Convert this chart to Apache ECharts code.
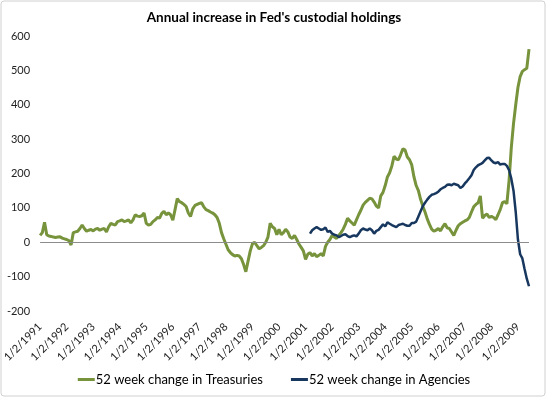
<!DOCTYPE html>
<html>
<head>
<meta charset="utf-8">
<script src="https://cdn.jsdelivr.net/npm/echarts@6/dist/echarts.min.js"></script>
<style>
html,body{margin:0;padding:0;background:#fff;}
#chart{width:548px;height:399px;}
</style>
</head>
<body>
<div id="chart"></div>
<script>
// Years shown on the axis (labels "1/2/YYYY" at each January)
var years = [1991,1992,1993,1994,1995,1996,1997,1998,1999,2000,2001,2002,2003,2004,2005,2006,2007,2008,2009];
var lastYearMonths = 6; // data runs to mid-2009

// Monthly readings, 52 week change in Treasuries (Jan 1991 .. Jun 2009)
var treasuries = [
  20, 28, 58, 22, 18, 17, 15, 14, 15, 16, 12, 10,          // 1991
  8, 5, -8, 28, 30, 32, 40, 50, 40, 32, 35, 37,            // 1992
  33, 38, 40, 35, 38, 40, 30, 45, 55, 52, 50, 60,          // 1993
  62, 65, 60, 62, 65, 56, 65, 80, 76, 75, 77, 85,          // 1994
  55, 50, 52, 60, 65, 72, 70, 84, 90, 80, 85, 80,          // 1995
  64, 95, 127, 118, 115, 110, 104, 85, 75, 97, 107, 110,   // 1996
  113, 115, 103, 95, 92, 88, 85, 80, 72, 55, 28, 10,       // 1997
  -6, -22, -30, -36, -40, -38, -40, -48, -65, -86, -55, -25, // 1998
  -4, 0, -10, -19, -15, -10, 0, 15, 55, 45, 40, 22,        // 1999
  38, 22, 28, 38, 30, 15, 11, 20, 8, -5, -15, -25,         // 2000
  -50, -35, -30, -40, -33, -42, -38, -33, -40, -12, 0, 8,  // 2001
  20, 15, 11, 20, 28, 38, 52, 70, 62, 56, 50, 65,          // 2002
  80, 93, 108, 116, 122, 128, 126, 117, 105, 100, 135, 145, // 2003
  165, 190, 202, 222, 250, 242, 240, 255, 272, 268, 248, 240, // 2004
  225, 190, 165, 150, 125, 105, 88, 68, 52, 38, 32, 35,    // 2005
  40, 33, 45, 54, 42, 40, 30, 20, 35, 48, 54, 58,          // 2006
  62, 65, 72, 88, 103, 110, 115, 135, 70, 78, 82, 72,      // 2007
  75, 72, 66, 80, 95, 115, 118, 112, 180, 275, 345, 400,   // 2008
  450, 482, 497, 502, 506, 562                             // 2009
];

// Monthly readings, 52 week change in Agencies (series begins early 2001)
var agencies = [
  null,null,null,null,null,null,null,null,null,null,null,null, // 1991
  null,null,null,null,null,null,null,null,null,null,null,null, // 1992
  null,null,null,null,null,null,null,null,null,null,null,null, // 1993
  null,null,null,null,null,null,null,null,null,null,null,null, // 1994
  null,null,null,null,null,null,null,null,null,null,null,null, // 1995
  null,null,null,null,null,null,null,null,null,null,null,null, // 1996
  null,null,null,null,null,null,null,null,null,null,null,null, // 1997
  null,null,null,null,null,null,null,null,null,null,null,null, // 1998
  null,null,null,null,null,null,null,null,null,null,null,null, // 1999
  null,null,null,null,null,null,null,null,null,null,null,null, // 2000
  null, null, 25, 35, 40, 44, 40, 36, 38, 43, 30, 33,      // 2001
  25, 22, 20, 15, 18, 22, 23, 18, 15, 18, 20, 17,          // 2002
  25, 35, 40, 37, 35, 40, 35, 25, 33, 36, 44, 52,          // 2003
  46, 58, 54, 50, 47, 44, 50, 52, 54, 50, 48, 48,          // 2004
  56, 56, 60, 75, 90, 105, 115, 124, 132, 138, 140, 143,   // 2005
  147, 154, 158, 161, 167, 168, 166, 170, 168, 166, 158, 162, // 2006
  171, 178, 186, 195, 210, 218, 224, 227, 231, 238, 245, 246, // 2007
  238, 232, 230, 233, 226, 228, 228, 222, 210, 185, 150, 88, // 2008
  8, -35, -47, -78, -106, -128                              // 2009
];

var yTicks = {min: -200, max: 600, interval: 100};
var seriesNames = ['52 week change in Treasuries', '52 week change in Agencies'];
var titleText = "Annual increase in Fed's custodial holdings";

// Build monthly categories; January entries carry the "1/2/YYYY" label
var categories = [];
years.forEach(function (y, yi) {
  var n = (yi === years.length - 1) ? lastYearMonths : 12;
  for (var m = 0; m < n; m++) {
    categories.push(m === 0 ? ('1/2/' + y) : ((m + 1) + '/1/' + y));
  }
});

var FONT = 'Lato, "Open Sans", sans-serif';
var chart = echarts.init(document.getElementById('chart'), null, {renderer: 'canvas'});
chart.setOption({
  backgroundColor: '#ffffff',
  animation: false,
  title: {
    text: titleText,
    left: 'center',
    top: 6,
    textStyle: {fontFamily: FONT, fontSize: 13.5, fontWeight: 'bold', color: '#000'}
  },
  graphic: [{
    type: 'rect',
    shape: {x: 1, y: 1, width: 544, height: 395, r: 3},
    style: {fill: 'none', stroke: '#d0d0d0', lineWidth: 1},
    silent: true, z: -1
  }],
  legend: {
    bottom: 8,
    left: 'center',
    icon: 'rect',
    itemWidth: 17,
    itemHeight: 3,
    itemGap: 28,
    textStyle: {fontFamily: FONT, fontSize: 13, color: '#000', padding: [0, 0, 0, -4]},
    data: seriesNames
  },
  grid: {left: 40, right: 19, top: 36, bottom: 88, containLabel: false},
  xAxis: {
    type: 'category',
    data: categories,
    boundaryGap: false,
    axisLine: {show: false},
    axisTick: {show: false},
    splitLine: {show: false},
    axisLabel: {
      interval: 11,
      rotate: 45,
      margin: 14,
      fontFamily: FONT,
      fontSize: 11,
      color: '#222'
    }
  },
  yAxis: {
    type: 'value',
    min: yTicks.min,
    max: yTicks.max,
    interval: yTicks.interval,
    axisLine: {show: false},
    axisTick: {show: false},
    splitLine: {show: false},
    axisLabel: {margin: 10, fontFamily: FONT, fontSize: 11, color: '#222'}
  },
  series: [
    {
      name: seriesNames[0],
      type: 'line',
      data: treasuries,
      symbol: 'none',
      lineStyle: {color: '#77933C', width: 3},
      itemStyle: {color: '#77933C'},
      markLine: {
        silent: true,
        symbol: 'none',
        label: {show: false},
        lineStyle: {color: '#8c8c8c', width: 1, type: 'solid'},
        data: [{yAxis: 0}]
      },
      z: 2
    },
    {
      name: seriesNames[1],
      type: 'line',
      data: agencies,
      symbol: 'none',
      connectNulls: false,
      lineStyle: {color: '#17375E', width: 2.5},
      itemStyle: {color: '#17375E'},
      z: 3
    }
  ]
});
</script>
</body>
</html>
